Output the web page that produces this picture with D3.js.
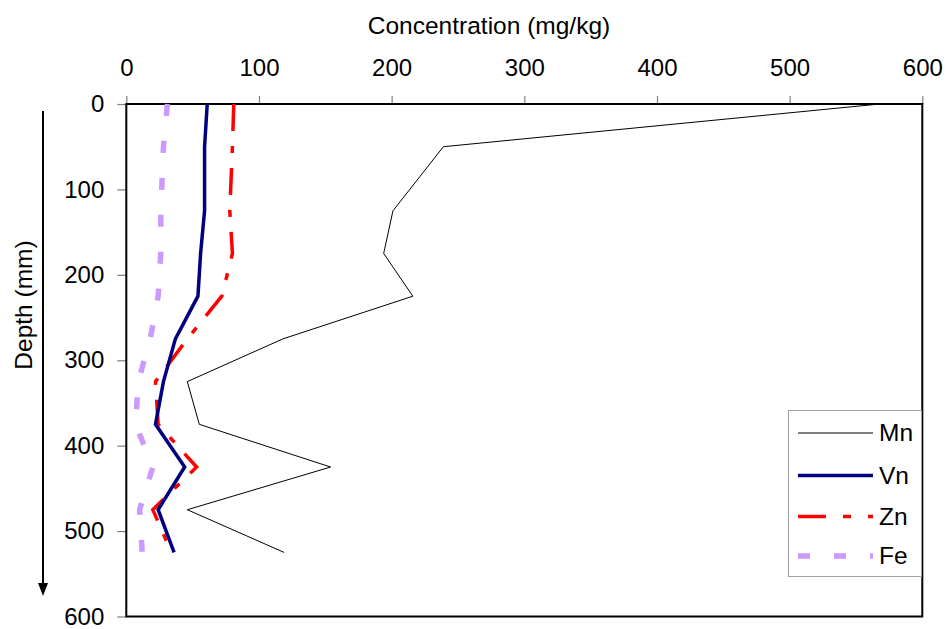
<!DOCTYPE html>
<html>
<head>
<meta charset="utf-8">
<script src="https://cdn.jsdelivr.net/npm/d3@7"></script>
<style>
  body { margin: 0; background: #fff; }
  text { font-family: Arial, "Liberation Sans", sans-serif; fill: #000; }
</style>
</head>
<body>
<div id="graph"></div>
<script>
// depth (mm) of each sample and concentrations (mg/kg)
var depth = [0, 50, 125, 175, 225, 275, 325, 375, 425, 475, 525];
var mn = [568, 239, 201, 194, 216, 118, 46, 55, 154, 46, 119];
var vn = [61, 59, 59, 56, 54, 37, 28, 22, 44, 24, 36];
var zn = [81, 80, 78, 80, 72, 46, 22, 24, 53, 20, 34];
var fe = [31, 28, 26, 26, 24, 18, 9, 7, 20, 10, 12];
var seriesNames = ["Mn", "Vn", "Zn", "Fe"];
var xTicks = [0, 100, 200, 300, 400, 500, 600];
var yTicks = [0, 100, 200, 300, 400, 500, 600];

var width = 949;
var height = 629;

var svg = d3.select("#graph")
    .append("svg")
    .attr("width", width)
    .attr("height", height);

var scaleX = d3.scaleLinear().domain([0, 600]).range([126.3, 922.3]);
var scaleY = d3.scaleLinear().domain([0, 600]).range([104, 616.5]);

// ticks (grey) first so the frame sits over them
var xAxis = d3.axisTop(scaleX).tickValues(xTicks).tickSize(8).tickPadding(20);
var yAxis = d3.axisLeft(scaleY).tickValues(yTicks).tickSize(9).tickPadding(13);

var gx = svg.append("g").attr("transform", "translate(0," + scaleY(0) + ")").call(xAxis);
var gy = svg.append("g").attr("transform", "translate(" + scaleX(0) + ",0)").call(yAxis);
[gx, gy].forEach(function(g) {
    g.select(".domain").remove();
    g.selectAll(".tick line").attr("stroke", "#808080").attr("stroke-width", 1.2);
    g.selectAll(".tick text").style("font-size", "24px").attr("fill", "#000");
});
gx.selectAll(".tick text").attr("dy", "0");

// plot frame
svg.append("rect")
    .attr("x", scaleX(0))
    .attr("y", scaleY(0))
    .attr("width", scaleX(600) - scaleX(0))
    .attr("height", scaleY(600) - scaleY(0))
    .attr("fill", "none")
    .attr("stroke", "#000")
    .attr("stroke-width", 2);

// titles
svg.append("text")
    .attr("x", 489)
    .attr("y", 34)
    .attr("text-anchor", "middle")
    .style("font-size", "24.5px")
    .text("Concentration (mg/kg)");

svg.append("text")
    .attr("transform", "translate(32,305) rotate(-90)")
    .attr("text-anchor", "middle")
    .style("font-size", "24.5px")
    .text("Depth (mm)");

// depth arrow
svg.append("line")
    .attr("x1", 43).attr("x2", 43)
    .attr("y1", 111).attr("y2", 586)
    .attr("stroke", "#000")
    .attr("stroke-width", 2);
svg.append("path")
    .attr("d", "M38,583 L48,583 L43,596 Z")
    .attr("fill", "#000");

var styles = {
    Mn: { color: "#000000", width: 1, dash: null },
    Vn: { color: "#000080", width: 3.5, dash: null },
    Zn: { color: "#ff0000", width: 3.5, dash: "27,15,7,15" },
    Fe: { color: "#cc99ff", width: 5.5, dash: "12,25" }
};
var values = { Mn: mn, Vn: vn, Zn: zn, Fe: fe };

var line = d3.line()
    .x(function(d) { return scaleX(d.value); })
    .y(function(d) { return scaleY(d.depth); });

// draw back to front: Fe, Zn, Vn, Mn
["Fe", "Zn", "Vn", "Mn"].forEach(function(name) {
    var pts = depth.map(function(d, i) { return { depth: d, value: values[name][i] }; });
    svg.append("path")
        .datum(pts)
        .attr("d", line)
        .attr("fill", "none")
        .attr("stroke", styles[name].color)
        .attr("stroke-width", styles[name].width)
        .attr("stroke-dasharray", styles[name].dash)
        .attr("stroke-linejoin", "miter");
});

// legend
var legend = svg.append("g");
legend.append("rect")
    .attr("x", 788.5).attr("y", 410.5)
    .attr("width", 133).attr("height", 166)
    .attr("fill", "#fff")
    .attr("stroke", "#a0a0a0")
    .attr("stroke-width", 1);

var legendY = [433, 475.5, 516.5, 556];
seriesNames.forEach(function(name, i) {
    var st = styles[name];
    legend.append("line")
        .attr("x1", 798).attr("x2", 873)
        .attr("y1", legendY[i]).attr("y2", legendY[i])
        .attr("stroke", st.color)
        .attr("stroke-width", st.width)
        .attr("stroke-dasharray", name === "Fe" ? "12,24" : (name === "Zn" ? "28,17,8,17" : st.dash));
    legend.append("text")
        .attr("x", 879)
        .attr("y", legendY[i] + 8)
        .style("font-size", "24.5px")
        .text(name);
});
</script>
</body>
</html>
